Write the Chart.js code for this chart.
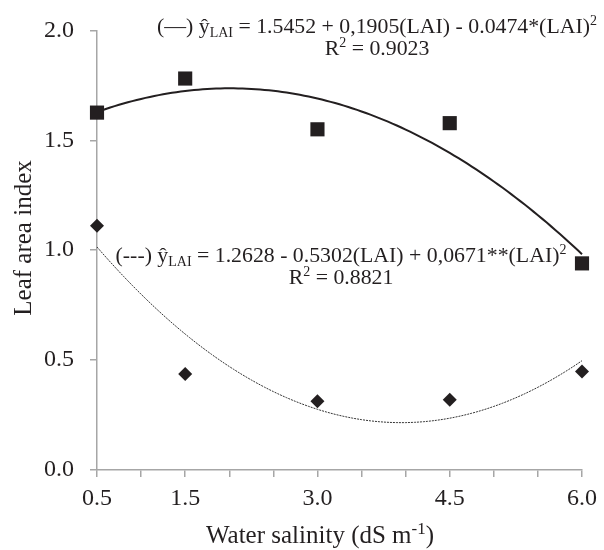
<!DOCTYPE html>
<html>
<head>
<meta charset="utf-8">
<script src="https://cdn.jsdelivr.net/npm/chart.js@4/dist/chart.umd.min.js"></script>
<style>
  html, body { margin: 0; padding: 0; background: #ffffff; }
  #wrap { width: 604px; height: 550px; }
</style>
</head>
<body>
<div id="wrap"><canvas id="c" width="604" height="550"></canvas></div>
<script>
// ---- data ----
const salinity = [0.5, 1.5, 3.0, 4.5, 6.0];
const laiSolid = [1.626, 1.781, 1.550, 1.578, 0.940];   // squares
const laiDashed = [1.111, 0.437, 0.313, 0.320, 0.448];  // diamonds
const xTickLabels = [0.5, 1.5, 3.0, 4.5, 6.0];
const yTickLabels = [0.0, 0.5, 1.0, 1.5, 2.0];
// printed regression coefficients (a + b x + c x^2)
const fitSolid = [1.5452, 0.1905, -0.0474];
const fitDashed = [1.2628, -0.5302, 0.0671];

const INK = '#231f20';
const AXIS = '#a6a6a6';
const SERIF = 'Liberation Serif';
Chart.defaults.font.family = SERIF;

function curve(coef) {
  const pts = [];
  const x0 = salinity[0], x1 = salinity[salinity.length - 1];
  const n = 110;
  for (let i = 0; i <= n; i++) {
    const x = x0 + (x1 - x0) * i / n;
    pts.push({x: x, y: coef[0] + coef[1] * x + coef[2] * x * x});
  }
  return pts;
}
const toPts = (ys) => salinity.map((x, i) => ({x: x, y: ys[i]}));

// rich-text annotations (equations and axis titles)
const notes = [
  {x: 377, y: 33, size: 21.8, segs: [['(—) ŷ'], ['LAI', 'sub'], [' = 1.5452 + 0,1905(LAI) - 0.0474*(LAI)'], ['2', 'sup']]},
  {x: 377, y: 55, size: 21.8, segs: [['R'], ['2', 'sup'], [' = 0.9023']]},
  {x: 341, y: 262, size: 21.8, segs: [['(---) ŷ'], ['LAI', 'sub'], [' = 1.2628 - 0.5302(LAI) + 0,0671**(LAI)'], ['2', 'sup']]},
  {x: 341, y: 284, size: 21.8, segs: [['R'], ['2', 'sup'], [' = 0.8821']]},
  {x: 320, y: 543, size: 25, segs: [['Water salinity (dS m'], ['-1', 'sup'], [')']]},
  {x: 238, y: 31, size: 25, rot: true, segs: [['Leaf area index']]}
];

const notePlugin = {
  id: 'notes',
  afterDraw(chart) {
    const ctx = chart.ctx;
    ctx.save();
    ctx.fillStyle = INK;
    ctx.textBaseline = 'alphabetic';
    ctx.textAlign = 'left';
    notes.forEach(n => {
      const small = Math.round(n.size * 0.66);
      const fontFor = (k) => (k ? small : n.size) + 'px "Liberation Serif"';
      let w = 0;
      n.segs.forEach(s => { ctx.font = fontFor(s[1]); w += ctx.measureText(s[0]).width; });
      ctx.save();
      if (n.rot) {
        // x holds vertical centre, y holds baseline x-position
        ctx.translate(n.y, n.x);
        ctx.rotate(-Math.PI / 2);
      } else {
        ctx.translate(n.x, n.y);
      }
      let x = -w / 2;
      n.segs.forEach(s => {
        ctx.font = fontFor(s[1]);
        const dy = s[1] === 'sub' ? n.size * 0.2 : (s[1] === 'sup' ? -n.size * 0.38 : 0);
        ctx.fillText(s[0], x, dy);
        x += ctx.measureText(s[0]).width;
      });
      ctx.restore();
    });
    ctx.restore();
  }
};

new Chart(document.getElementById('c'), {
  type: 'scatter',
  data: {
    datasets: [
      {data: toPts(laiSolid), pointStyle: 'rect', pointRadius: 10, pointHoverRadius: 10,
       backgroundColor: INK, borderColor: INK, borderWidth: 0, showLine: false, clip: false},
      {data: toPts(laiDashed), pointStyle: 'rectRot', pointRadius: 7, pointHoverRadius: 7,
       backgroundColor: INK, borderColor: INK, borderWidth: 0, showLine: false, clip: false},
      {data: curve(fitSolid), showLine: true, pointRadius: 0, borderColor: INK, borderWidth: 2, tension: 0, clip: false},
      {data: curve(fitDashed), showLine: true, pointRadius: 0, borderColor: '#333333', borderWidth: 1,
       borderDash: [2, 1], tension: 0, clip: false}
    ]
  },
  options: {
    responsive: false,
    animation: false,
    events: [],
    layout: {padding: {top: 24, right: 18, left: 0, bottom: 0}},
    plugins: {legend: {display: false}, tooltip: {enabled: false}},
    scales: {
      x: {
        type: 'linear', min: 0.5, max: 6.0,
        afterFit(s) { s.height = 80; },
        afterBuildTicks(s) {
          const t = [];
          for (let v = 0.5; v <= 6.0001; v += 0.5) t.push({value: Math.round(v * 10) / 10});
          s.ticks = t;
        },
        ticks: {
          autoSkip: false, maxRotation: 0, padding: 7, color: INK,
          font: {family: SERIF, size: 24},
          callback: (v) => xTickLabels.includes(v) ? v.toFixed(1) : ''
        },
        grid: {drawOnChartArea: false, drawTicks: true, tickLength: 7, color: AXIS, lineWidth: 1.5},
        border: {display: true, color: AXIS, width: 1.5},
        title: {display: false}
      },
      y: {
        type: 'linear', min: 0, max: 2.0,
        afterFit(s) { s.width = 97; },
        afterBuildTicks(s) { s.ticks = yTickLabels.map(v => ({value: v})); },
        ticks: {
          padding: 16, color: INK, font: {family: SERIF, size: 24},
          callback: (v) => v.toFixed(1)
        },
        grid: {drawOnChartArea: false, drawTicks: true, tickLength: 7, color: AXIS, lineWidth: 1.5},
        border: {display: true, color: AXIS, width: 1.5},
        title: {display: false}
      }
    }
  },
  plugins: [notePlugin]
});
</script>
</body>
</html>
